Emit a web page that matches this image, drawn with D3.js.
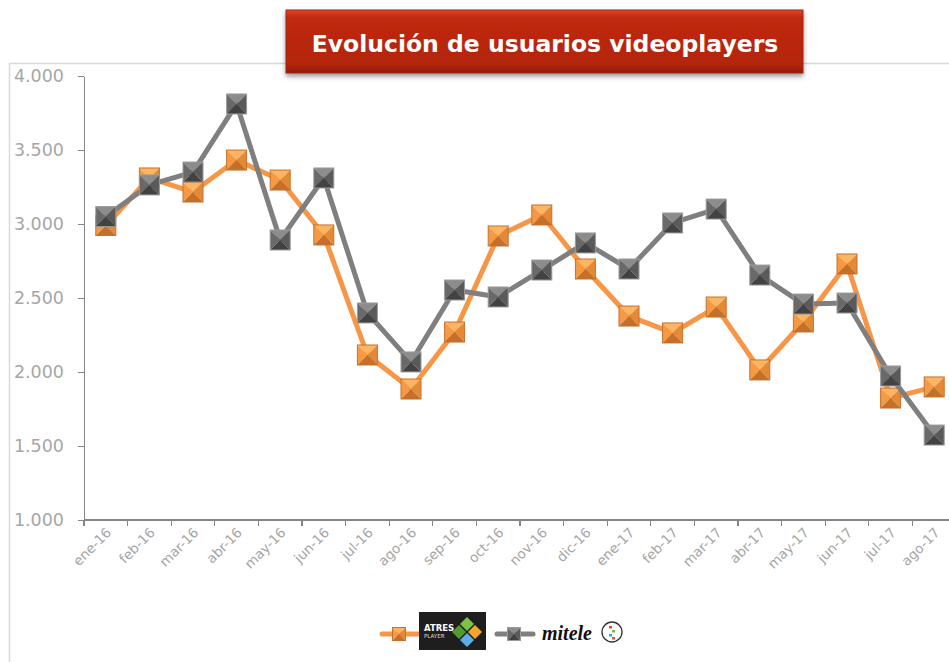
<!DOCTYPE html>
<html lang="es">
<head>
<meta charset="UTF-8">
<title>Evolución de usuarios videoplayers</title>
<script src="https://d3js.org/d3.v7.min.js"></script>
<style>
    body { margin: 0; background: #fff; }
    svg { display: block; font-family: "DejaVu Sans", Verdana, sans-serif; }
    .axis path, .axis line { stroke: #868686; stroke-width: 1.3; shape-rendering: crispEdges; }
    .axis text { font-family: "DejaVu Sans", Verdana, sans-serif; }
    .yaxis text { fill: #a6a6a6; font-size: 17.5px; }
    .xaxis text { fill: #a6a6a6; font-size: 13.5px; }
</style>
</head>
<body>
<svg id="chart" width="949" height="662"></svg>
<script>
// months shown on the x axis
var months = ["ene-16", "feb-16", "mar-16", "abr-16", "may-16", "jun-16", "jul-16", "ago-16",
    "sep-16", "oct-16", "nov-16", "dic-16", "ene-17", "feb-17", "mar-17", "abr-17",
    "may-17", "jun-17", "jul-17", "ago-17"];

// users (thousands)
var atresplayer = [2990, 3311, 3216, 3432, 3297, 2926, 2115, 1885, 2270, 2919,
    3061, 2696, 2378, 2264, 2439, 2014, 2338, 2730, 1824, 1899];
var mitele = [3050, 3264, 3351, 3811, 2892, 3311, 2399, 2068, 2554, 2507,
    2689, 2872, 2696, 3007, 3101, 2655, 2459, 2466, 1973, 1574];

var yTicks = [1000, 1500, 2000, 2500, 3000, 3500, 4000];

var svg = d3.select("#chart");
var defs = svg.append("defs");

// light frame of the chart area
svg.append("path")
    .attr("d", "M9.5,662 V63.5 H949")
    .attr("fill", "none")
    .attr("stroke", "#d9d9d9")
    .attr("stroke-width", 1.5);

var x = d3.scaleBand()
    .domain(months)
    .range([84, 956]);

var y = d3.scaleLinear()
    .domain([1000, 4000])
    .range([520, 76]);

var fmt = function (d) { return d3.format(",")(d).replace(",", "."); };

// y axis
svg.append("g")
    .attr("class", "axis yaxis")
    .attr("transform", "translate(84,0)")
    .call(d3.axisLeft(y).tickValues(yTicks).tickFormat(fmt).tickSize(6).tickSizeOuter(0).tickPadding(14));

// x axis
var xAxis = svg.append("g")
    .attr("class", "axis xaxis")
    .attr("transform", "translate(0,520)")
    .call(d3.axisBottom(x).tickSize(0).tickSizeOuter(0));
xAxis.select(".domain").attr("d", "M84,0 H949");
xAxis.selectAll(".tick text")
    .attr("text-anchor", "end")
    .attr("transform", "translate(3,10) rotate(-45)")
    .attr("dy", "0.35em")
    .attr("y", 0);
// tick marks at band boundaries
xAxis.selectAll(".bound")
    .data(months)
    .enter().append("line")
    .attr("x1", function (d) { return x(d); })
    .attr("x2", function (d) { return x(d); })
    .attr("y1", 0)
    .attr("y2", 6)
    .attr("stroke", "#868686")
    .attr("stroke-width", 1.3);

var series = [
    { name: "atres", values: atresplayer, line: "#f79646",
      shades: ["#fcb562", "#f59a42", "#e48a37", "#c4702a"], edge: "#c8702c" },
    { name: "mitele", values: mitele, line: "#7f7f7f",
      shades: ["#8c8c8c", "#696969", "#5a5a5a", "#424242"], edge: "#9a9a9a" }
];

var lineGen = d3.line()
    .x(function (d, i) { return x(months[i]) + x.bandwidth() / 2; })
    .y(function (d) { return y(d); });

// pyramid-like square marker
function marker(g, cx, cy, s, sr) {
    var h = s / 2;
    var tl = [cx - h, cy - h], tr = [cx + h, cy - h], br = [cx + h, cy + h], bl = [cx - h, cy + h];
    var c = [cx, cy];
    var tri = [[tl, tr, c], [tl, bl, c], [tr, br, c], [bl, br, c]];
    tri.forEach(function (t, k) {
        g.append("path")
            .attr("d", "M" + t.map(function (p) { return p.join(","); }).join("L") + "Z")
            .attr("fill", sr.shades[k]);
    });
    g.append("rect")
        .attr("x", cx - h).attr("y", cy - h)
        .attr("width", s).attr("height", s)
        .attr("fill", "none")
        .attr("stroke", sr.edge)
        .attr("stroke-width", 1);
}

series.forEach(function (sr) {
    var g = svg.append("g").attr("class", "series " + sr.name);
    g.append("path")
        .datum(sr.values)
        .attr("d", lineGen)
        .attr("fill", "none")
        .attr("stroke", sr.line)
        .attr("stroke-width", 5)
        .attr("stroke-linejoin", "round");
    sr.values.forEach(function (v, i) {
        marker(g, x(months[i]) + x.bandwidth() / 2, y(v), 20, sr);
    });
});

// title box
var grad = defs.append("linearGradient").attr("id", "titleGrad")
    .attr("x1", 0).attr("y1", 0).attr("x2", 0).attr("y2", 1);
grad.append("stop").attr("offset", "0%").attr("stop-color", "#e0462a");
grad.append("stop").attr("offset", "12%").attr("stop-color", "#c0290e");
grad.append("stop").attr("offset", "85%").attr("stop-color", "#b3260d");
grad.append("stop").attr("offset", "100%").attr("stop-color", "#8e1c08");
var shadow = defs.append("filter").attr("id", "shadow")
    .attr("x", "-5%").attr("y", "-20%").attr("width", "110%").attr("height", "150%");
shadow.append("feDropShadow").attr("dx", 0).attr("dy", 3).attr("stdDeviation", 2.5)
    .attr("flood-color", "#000").attr("flood-opacity", 0.4);

svg.append("rect")
    .attr("x", 286).attr("y", 10)
    .attr("width", 517).attr("height", 63)
    .attr("fill", "url(#titleGrad)")
    .attr("stroke", "#a8230c")
    .attr("filter", "url(#shadow)");
svg.append("text")
    .attr("x", 545).attr("y", 52)
    .attr("text-anchor", "middle")
    .attr("fill", "#fff")
    .attr("font-weight", "bold")
    .attr("font-size", "23.5px")
    .text("Evolución de usuarios videoplayers");

// legend
var leg = svg.append("g").attr("class", "legend");
leg.append("line").attr("x1", 382).attr("x2", 418).attr("y1", 634).attr("y2", 634)
    .attr("stroke", series[0].line).attr("stroke-width", 5).attr("stroke-linecap", "round");
marker(leg, 399, 634, 13, series[0]);

leg.append("rect").attr("x", 419).attr("y", 612).attr("width", 67).attr("height", 38).attr("fill", "#1e1e1e");
leg.append("text").attr("x", 424).attr("y", 631).attr("fill", "#fff")
    .attr("font-size", "8.5px").attr("font-weight", "bold").text("ATRES");
leg.append("text").attr("x", 424).attr("y", 638).attr("fill", "#ddd")
    .attr("font-size", "5.5px").text("PLAYER");
// logo diamonds
var dm = [
    { cx: 467, cy: 624, c: "#7cc243" },
    { cx: 475, cy: 632, c: "#f4a42c" },
    { cx: 467, cy: 640, c: "#5aaeea" },
    { cx: 459, cy: 632, c: "#4f9a32" }
];
dm.forEach(function (d) {
    leg.append("path")
        .attr("d", "M" + d.cx + "," + (d.cy - 7) + "L" + (d.cx + 7) + "," + d.cy + "L" + d.cx + "," + (d.cy + 7) + "L" + (d.cx - 7) + "," + d.cy + "Z")
        .attr("fill", d.c);
});

leg.append("line").attr("x1", 497).attr("x2", 533).attr("y1", 634).attr("y2", 634)
    .attr("stroke", series[1].line).attr("stroke-width", 5).attr("stroke-linecap", "round");
marker(leg, 514, 634, 13, series[1]);

leg.append("text").attr("x", 542).attr("y", 640)
    .attr("font-size", "20px").attr("font-weight", "bold").attr("font-style", "italic")
    .attr("font-family", "'Liberation Serif', serif")
    .attr("fill", "#111").text("mitele");
leg.append("circle").attr("cx", 612).attr("cy", 632).attr("r", 10)
    .attr("fill", "#fff").attr("stroke", "#333").attr("stroke-width", 1.3);
[["#e8473a", -5], ["#6fbf44", -1], ["#34a6d8", 3], ["#e8473a", 6]].forEach(function (p, i) {
    leg.append("rect").attr("x", 609 + (i % 2) * 3).attr("y", 632 + p[1] - 1)
        .attr("width", 3).attr("height", 2.5).attr("fill", p[0]);
});
</script>
</body>
</html>
